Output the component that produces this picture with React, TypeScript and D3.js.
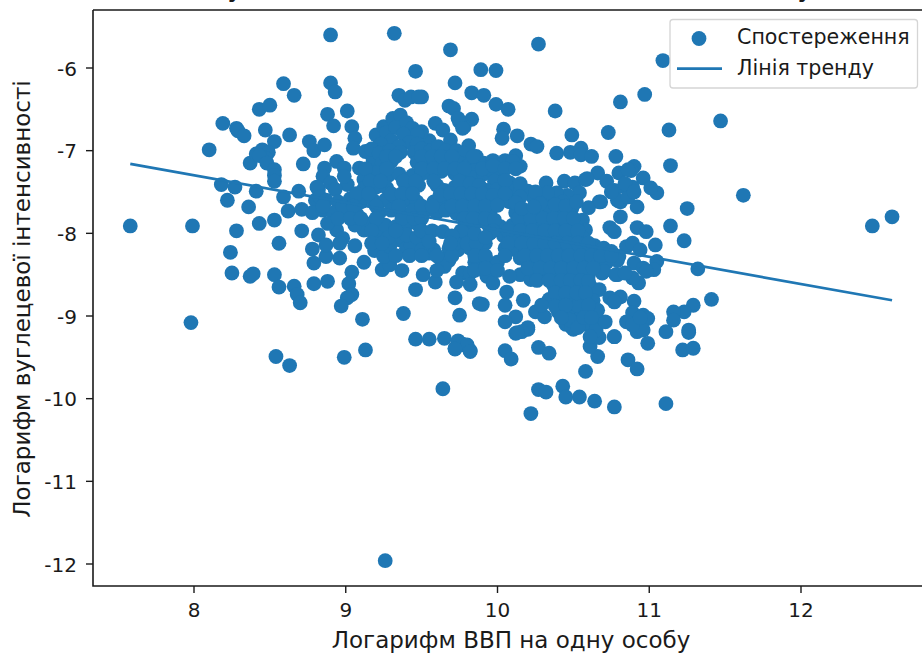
import React from "react";
import * as d3 from "d3";

const title = "Вуглецева інтенсивність та ВВП на особу";
const xLabel = "Логарифм ВВП на одну особу";
const yLabel = "Логарифм вуглецевої інтенсивності";
const xTicks = [8, 9, 10, 11, 12];
const yTicks = [-6, -7, -8, -9, -10, -11, -12];
const legendLabels = ["Спостереження", "Лінія тренду"];
const trendLine: [number, number][] = [[7.58, -7.16], [12.6, -8.81]];

const outliersAndEdges: [number, number][] = [
  [7.58,-7.91],[7.99,-7.91],[7.98,-9.08],[8.10,-6.99],[8.19,-6.67],[8.28,-6.73],[8.29,-6.76],[8.33,-6.82],[8.43,-6.50],[8.50,-6.45],
  [8.59,-6.19],[8.66,-6.33],[8.47,-6.75],[8.63,-6.81],[8.53,-6.89],[8.76,-6.89],[8.79,-7.0],[8.86,-6.93],[8.72,-7.16],[8.37,-7.15],
  [8.41,-7.04],[8.45,-6.99],[8.49,-7.02],[8.47,-7.09],[8.43,-7.06],[8.48,-7.15],[8.53,-7.23],[8.53,-7.30],[8.53,-7.37],[8.18,-7.41],
  [8.27,-7.44],[8.41,-7.49],[8.59,-7.56],[8.69,-7.49],[8.22,-7.60],[8.36,-7.68],[8.62,-7.73],[8.71,-7.71],[8.82,-7.47],[8.80,-7.60],
  [8.43,-7.88],[8.53,-7.84],[8.28,-7.97],[8.24,-8.23],[8.56,-8.12],[8.71,-7.97],[8.25,-8.48],[8.37,-8.52],[8.39,-8.49],[8.53,-8.50],
  [8.56,-8.65],[8.66,-8.64],[8.68,-8.74],[8.70,-8.84],[8.79,-8.61],[8.88,-8.58],[8.79,-8.36],[8.96,-8.30],[8.87,-8.28],[8.78,-8.19],
  [8.82,-8.02],[8.87,-8.14],[8.94,-7.96],[8.98,-8.06],[8.96,-8.12],[9.06,-8.15],[9.12,-8.35],[9.04,-8.47],[9.02,-8.61],[9.04,-8.74],
  [9.01,-8.78],[8.97,-8.88],[9.11,-9.04],[9.38,-8.97],[9.46,-8.68],[9.51,-8.50],[9.37,-8.45],[9.24,-8.44],[9.29,-8.38],[9.19,-8.21],
  [9.25,-8.28],[9.12,-7.96],[9.22,-7.98],[9.36,-8.08],[9.29,-8.16],[9.40,-8.18],[9.43,-8.14],[9.53,-8.12],
  [8.54,-9.49],[8.63,-9.60],[8.99,-9.50],[9.13,-9.41],[9.46,-9.28],[9.55,-9.28],[9.65,-9.27],[9.74,-9.33],[9.72,-9.39],[9.64,-9.88],
  [9.26,-11.96],[10.05,-9.42],[10.09,-9.52],[10.27,-9.38],[10.34,-9.45],[10.58,-9.67],[10.66,-9.49],[10.86,-9.53],[10.92,-9.64],[10.99,-9.33],
  [11.22,-9.41],[11.29,-9.39],[10.27,-9.89],[10.32,-9.92],[10.43,-9.85],[10.45,-9.98],[10.54,-9.98],[10.64,-10.03],[10.77,-10.10],[11.11,-10.06],
  [10.22,-10.18],[10.77,-9.25],[10.61,-9.37],[9.82,-9.42],[9.77,-9.34],[9.80,-9.37],[10.12,-9.21],[10.20,-9.16],[10.50,-9.16],[11.26,-9.20],[11.11,-9.19],
  [8.90,-5.60],[9.32,-5.58],[9.69,-5.78],[10.27,-5.71],[11.09,-5.91],[9.89,-6.02],[9.99,-6.03],[9.46,-6.04],[9.83,-6.30],[9.91,-6.33],[9.99,-6.44],[10.07,-6.50],
  [10.38,-6.52],[10.81,-6.41],[10.97,-6.32],[11.47,-6.64],[10.73,-6.78],[11.13,-6.75],[10.49,-6.81],[11.14,-7.18],[11.62,-7.54],[12.47,-7.91],
  [12.60,-7.80],[11.25,-7.70],[11.14,-7.91],[11.23,-8.09],[11.32,-8.43],[11.41,-8.80],[11.29,-8.87],[11.23,-8.95],[11.16,-8.95],[11.16,-9.05],[11.26,-9.17],
  [10.39,-7.03],[10.48,-7.02],[10.55,-6.97],[10.55,-7.05],[10.62,-7.07],[10.78,-7.07],[10.22,-6.92],[10.26,-6.95],[10.13,-6.82],[10.04,-6.74],
  [10.03,-6.85],[9.83,-6.62],[9.78,-6.71],[9.81,-6.94],[9.75,-6.65],[9.72,-6.18],[9.50,-6.35],[9.68,-6.46],[9.71,-6.49],[9.74,-6.61],[9.77,-6.73],
  [9.59,-6.67],[9.64,-6.75],[9.69,-6.87],[9.55,-6.88],[9.50,-6.77],[8.90,-6.18],[8.93,-6.29],[8.88,-6.56],[8.92,-6.70],[9.01,-6.52],[9.04,-6.71],
  [9.06,-6.85],[9.05,-6.97],[9.13,-7.01],[9.18,-7.11],[9.09,-7.21],[9.12,-7.35],[9.35,-6.33],[9.39,-6.39],[9.43,-6.35],[9.48,-6.35],
];

const upperCluster: [number, number][] = [
  [9.20,-6.81],[9.25,-6.71],[9.31,-6.61],[9.36,-6.57],[9.27,-6.78],[9.33,-6.72],[9.40,-6.66],[9.44,-6.73],[9.47,-6.80],[9.30,-6.88],[9.38,-6.80],[9.42,-6.90],[9.35,-6.95],[9.47,-6.92],[9.23,-6.92],
  [9.17,-6.98],[9.22,-7.03],[9.29,-7.00],[9.36,-7.02],[9.45,-7.02],[9.50,-6.98],[9.56,-7.00],[9.61,-6.95],[9.66,-7.00],[9.73,-7.00],[9.78,-7.03],
  [9.24,-7.15],[9.30,-7.13],[9.47,-7.14],[9.54,-7.15],[9.60,-7.12],[9.67,-7.14],[9.75,-7.15],[9.81,-7.18],[9.87,-7.20],
  [9.20,-7.27],[9.28,-7.30],[9.35,-7.28],[9.44,-7.30],[9.50,-7.28],[9.57,-7.30],[9.63,-7.25],[9.72,-7.28],[9.78,-7.30],[9.84,-7.33],[9.91,-7.28],[9.97,-7.25],
  [8.94,-7.13],[8.86,-7.21],[8.99,-7.21],[8.85,-7.31],[9.01,-7.41],[8.90,-7.39],[8.93,-7.47],[8.99,-7.31],[8.81,-7.44],[8.83,-7.56],
  [9.86,-7.07],[9.91,-7.15],[9.97,-7.12],[10.05,-7.12],[10.12,-7.06],[10.15,-7.19],[10.10,-7.13],[10.02,-7.31],[9.98,-7.37],[10.08,-7.39],[10.20,-7.49],[10.12,-7.52],
  [10.32,-7.39],[10.30,-7.54],[10.35,-7.55],[10.44,-7.37],[10.51,-7.39],[10.58,-7.35],[10.66,-7.27],[10.72,-7.37],[10.80,-7.27],[10.90,-7.19],[10.96,-7.33],[11.05,-7.51],[11.01,-7.45],[10.88,-7.24],
  [10.59,-7.34],[10.86,-7.23],[10.81,-7.62],[10.84,-7.44],[10.89,-7.44],[10.77,-7.48],[10.67,-7.62],[10.60,-7.69],[10.56,-7.84],[10.58,-7.96],[10.54,-7.51],[10.46,-7.54],[10.39,-7.51],[10.33,-7.51],[10.43,-7.62],
  [10.68,-7.62],[10.92,-7.68],[10.79,-7.60],[10.86,-7.56],[10.75,-7.50],[10.84,-7.40],[10.90,-7.50],
];

const middleCluster: [number, number][] = [
  [9.12,-7.46],[9.20,-7.44],[9.27,-7.45],[9.42,-7.45],[9.48,-7.42],[9.60,-7.42],[9.65,-7.48],[9.72,-7.44],[9.79,-7.45],[9.85,-7.47],[9.93,-7.48],[10.00,-7.47],[10.06,-7.44],
  [8.87,-7.60],[8.95,-7.62],[9.03,-7.58],[9.10,-7.62],[9.18,-7.60],[9.26,-7.60],[9.33,-7.58],[9.40,-7.60],[9.47,-7.62],[9.58,-7.62],[9.65,-7.60],[9.72,-7.60],[9.80,-7.62],[9.88,-7.58],[9.95,-7.62],[10.02,-7.60],[10.08,-7.62],[10.24,-7.58],
  [8.78,-7.75],[8.85,-7.72],[8.92,-7.75],[9.00,-7.73],[9.07,-7.76],[9.22,-7.75],[9.30,-7.72],[9.37,-7.76],[9.44,-7.73],[9.51,-7.75],[9.60,-7.75],[9.66,-7.72],[9.73,-7.76],[9.80,-7.74],[9.87,-7.75],[9.95,-7.74],[10.12,-7.75],[10.20,-7.78],[10.27,-7.72],[10.35,-7.70],[10.42,-7.73],[10.49,-7.70],
  [8.88,-7.88],[9.06,-7.90],[9.17,-7.88],[9.26,-7.90],[9.33,-7.92],[9.41,-7.88],[9.48,-7.90],[9.79,-7.90],[9.85,-7.88],[9.94,-7.90],[10.02,-7.92],[10.10,-7.90],[10.17,-7.88],[10.26,-7.90],[10.33,-7.87],[10.40,-7.90],[10.47,-7.88],[10.52,-7.92],
  [9.28,-8.05],[9.40,-8.02],[9.47,-8.05],[9.54,-8.02],[9.74,-8.05],[9.80,-8.05],[9.95,-8.00],[10.04,-8.03],[10.12,-8.05],[10.20,-8.03],[10.28,-8.05],[10.35,-8.02],[10.42,-8.05],[10.50,-8.03],[10.56,-8.05],
  [9.58,-8.20],[9.68,-8.18],[9.74,-8.20],[9.82,-8.18],[9.88,-8.20],[9.92,-8.12],[10.05,-8.18],[10.12,-8.20],[10.20,-8.18],[10.28,-8.20],[10.35,-8.18],[10.42,-8.20],[10.50,-8.18],[10.57,-8.20],[10.64,-8.15],[10.70,-8.18],[10.75,-8.22],
];

const lowerCluster: [number, number][] = [
  [9.68,-8.33],[9.85,-8.35],[9.93,-8.33],[10.00,-8.35],[10.15,-8.30],[10.22,-8.33],[10.30,-8.35],[10.37,-8.33],[10.44,-8.35],[10.52,-8.33],[10.58,-8.35],[10.65,-8.32],[10.72,-8.35],
  [9.62,-8.30],[9.65,-8.40],[9.55,-8.24],[9.50,-8.20],[9.77,-8.48],[9.82,-8.48],[9.93,-8.52],[10.15,-8.50],[10.08,-8.52],[10.22,-8.56],[9.97,-8.60],[9.59,-8.59],[9.72,-8.78],[9.75,-8.99],[9.88,-8.85],[9.90,-8.86],[9.73,-8.59],[9.82,-8.62],
  [10.25,-8.48],[10.32,-8.50],[10.40,-8.48],[10.47,-8.50],[10.54,-8.48],[10.60,-8.50],[10.37,-8.63],[10.44,-8.65],[10.51,-8.63],[10.57,-8.65],[10.34,-8.80],[10.42,-8.78],[10.49,-8.80],[10.56,-8.80],
  [10.40,-8.95],[10.46,-8.92],[10.53,-8.97],[10.58,-8.95],[10.45,-9.10],[10.52,-9.05],[10.58,-9.10],[10.65,-9.08],
  [10.06,-8.71],[10.05,-8.87],[10.17,-8.81],[10.12,-9.01],[10.05,-9.07],[10.20,-9.14],[10.16,-9.19],[10.13,-9.20],[10.25,-8.95],[10.31,-9.01],[10.29,-8.87],[9.74,-9.30],[9.80,-9.35],[9.72,-9.40],[9.82,-9.43],
  [10.90,-8.82],[10.81,-8.77],[10.74,-8.78],[10.77,-8.83],[10.93,-8.60],[10.89,-8.54],[10.79,-8.50],[10.69,-8.48],[10.49,-9.14],[10.67,-9.26],[10.65,-9.17],[10.71,-9.07],[10.62,-8.66],[10.67,-8.68],[10.63,-8.81],[10.66,-8.93],[10.53,-8.87],[10.48,-9.05],[10.53,-9.14],[10.61,-9.25],[10.77,-9.25],
  [10.89,-8.96],[10.96,-8.99],[10.99,-9.03],[10.85,-9.07],[10.92,-9.19],[10.96,-9.17],[10.89,-9.11],[10.94,-9.02],
  [10.74,-7.93],[10.77,-7.98],[10.81,-7.80],[10.92,-7.93],[10.98,-7.98],[11.04,-8.14],[10.85,-8.16],[10.89,-8.12],[10.94,-8.20],[10.80,-8.28],[10.79,-8.33],[10.90,-8.36],[10.96,-8.42],[11.05,-8.34],[11.03,-8.44],[10.98,-8.46],[10.70,-8.46],[10.78,-8.50],[10.84,-8.48],
];

const denseCore: [number, number][] = [
  [9.27,-7.07],[9.33,-7.07],[9.50,-7.07],[9.57,-7.07],[9.63,-7.07],[9.70,-7.07],[9.84,-7.07],
  [9.13,-7.22],[9.27,-7.22],[9.50,-7.22],[9.58,-7.22],[9.65,-7.22],[9.72,-7.22],[9.78,-7.22],[9.90,-7.22],[9.97,-7.18],[10.05,-7.22],[10.12,-7.22],
  [9.16,-7.37],[9.23,-7.37],[9.38,-7.37],[9.46,-7.37],[9.58,-7.37],[9.75,-7.37],[9.82,-7.40],[9.88,-7.42],[10.05,-7.36],[10.15,-7.40],
  [9.07,-7.52],[9.15,-7.52],[9.30,-7.52],[9.37,-7.52],[9.44,-7.52],[9.62,-7.54],[9.69,-7.52],[9.76,-7.52],[9.83,-7.52],[9.90,-7.52],[9.97,-7.54],[10.05,-7.52],[10.15,-7.56],[10.25,-7.50],
  [8.85,-7.67],[8.98,-7.67],[9.05,-7.67],[9.20,-7.67],[9.35,-7.67],[9.50,-7.67],[9.57,-7.67],[9.70,-7.67],[9.77,-7.67],[9.85,-7.67],[9.92,-7.67],[10.00,-7.66],[10.28,-7.64],[10.38,-7.65],[10.45,-7.67],[10.52,-7.62],
  [8.95,-7.82],[9.03,-7.82],[9.10,-7.82],[9.20,-7.82],[9.37,-7.82],[9.45,-7.82],[9.50,-7.82],[9.78,-7.82],[9.84,-7.82],[9.92,-7.82],[9.98,-7.84],[10.14,-7.82],[10.22,-7.82],[10.30,-7.82],[10.37,-7.82],[10.44,-7.82],[10.50,-7.82],
  [9.17,-7.97],[9.33,-7.97],[9.50,-7.97],[9.76,-7.97],[9.97,-7.97],[10.07,-7.97],[10.15,-7.97],[10.23,-7.97],[10.31,-7.97],[10.38,-7.97],[10.45,-7.97],[10.53,-7.97],
  [9.17,-8.12],[9.24,-8.12],[9.72,-8.12],[9.80,-8.12],[9.86,-8.12],[10.07,-8.12],[10.16,-8.12],[10.24,-8.12],[10.31,-8.12],[10.38,-8.12],[10.46,-8.12],[10.53,-8.12],[10.60,-8.12],
  [9.33,-8.27],[9.42,-8.27],[9.50,-8.27],[9.60,-8.27],[9.70,-8.27],[9.85,-8.27],[9.92,-8.27],[10.05,-8.27],[10.18,-8.27],[10.26,-8.27],[10.33,-8.27],[10.40,-8.27],[10.47,-8.27],[10.55,-8.27],[10.62,-8.27],[10.68,-8.27],[10.75,-8.27],
  [9.60,-8.45],[9.85,-8.45],[9.92,-8.42],[10.00,-8.45],[10.20,-8.42],[10.28,-8.42],[10.35,-8.42],[10.42,-8.42],[10.50,-8.42],[10.57,-8.42],[10.63,-8.42],
  [10.26,-8.57],[10.34,-8.57],[10.42,-8.57],[10.48,-8.57],[10.55,-8.57],[10.60,-8.58],
  [10.38,-8.72],[10.45,-8.72],[10.52,-8.72],[10.58,-8.72],
  [10.38,-8.88],[10.45,-8.87],[10.60,-8.87],[10.42,-9.02],[10.57,-9.02],[10.62,-9.02],
  [9.57,-7.97],[9.64,-7.98],[9.70,-8.03],[9.55,-8.10],[9.69,-8.12],[9.85,-8.00],[9.92,-8.05],
  [10.12,-7.63],[10.16,-7.70],[10.24,-7.68],
];

const observations = [...outliersAndEdges, ...upperCluster, ...middleCluster, ...lowerCluster, ...denseCore];

const WIDTH = 922, HEIGHT = 656;
const BLUE = "#1f77b4";
const FONT = "'DejaVu Sans', sans-serif";
const INK = "#1a1a1a";

export default function App() {
  const x = d3.scaleLinear().domain([8, 12]).range([194, 801]);
  const y = d3.scaleLinear().domain([-6, -12]).range([68, 564]);
  const left = 93, right = 922, top = 10, bottom = 586;
  const trendPath = d3.line<[number, number]>().x(d => x(d[0])).y(d => y(d[1]))(trendLine) ?? "";
  return (
    <svg width={WIDTH} height={HEIGHT} viewBox={`0 0 ${WIDTH} ${HEIGHT}`}
      style={{ position: "fixed", left: 0, top: 0, background: "#fff", fontFamily: FONT }}>
      <text x={511} y={-4.5} textAnchor="middle" fontSize={27.6} fill={INK}>{title}</text>
      <g fill={BLUE}>
        {observations.map((d, i) => <circle key={i} cx={x(d[0])} cy={y(d[1])} r={7.4} />)}
      </g>
      <path d={trendPath} fill="none" stroke={BLUE} strokeWidth={2.7} />
      <path d={`M${left},${top}H${right}M${left},${top}V${bottom}H${right}`} fill="none" stroke={INK} strokeWidth={1.6} />
      {xTicks.map(t => (
        <g key={t}>
          <line x1={x(t)} x2={x(t)} y1={bottom} y2={bottom + 7} stroke={INK} strokeWidth={1.4} />
          <text x={x(t)} y={617} textAnchor="middle" fontSize={20} fill={INK}>{t}</text>
        </g>
      ))}
      {yTicks.map(t => (
        <g key={t}>
          <line x1={left - 7} x2={left} y1={y(t)} y2={y(t)} stroke={INK} strokeWidth={1.4} />
          <text x={77} y={y(t) + 7.5} textAnchor="end" fontSize={20} fill={INK}>{t}</text>
        </g>
      ))}
      <text x={511} y={648} textAnchor="middle" fontSize={23} fill={INK}>{xLabel}</text>
      <text transform={`translate(30,299) rotate(-90)`} textAnchor="middle" fontSize={23} fill={INK}>{yLabel}</text>
      <rect x={670} y={19.5} width={247.5} height={68.5} rx={3} fill="#fff" fillOpacity={0.8} stroke="#d5d5d5" strokeWidth={1.3} />
      <circle cx={699} cy={38.5} r={7.4} fill={BLUE} />
      <line x1={677} x2={722} y1={68.7} y2={68.7} stroke={BLUE} strokeWidth={2.7} />
      <text x={737} y={44} fontSize={20.6} fill={INK}>{legendLabels[0]}</text>
      <text x={737} y={75} fontSize={20.6} fill={INK}>{legendLabels[1]}</text>
    </svg>
  );
}
